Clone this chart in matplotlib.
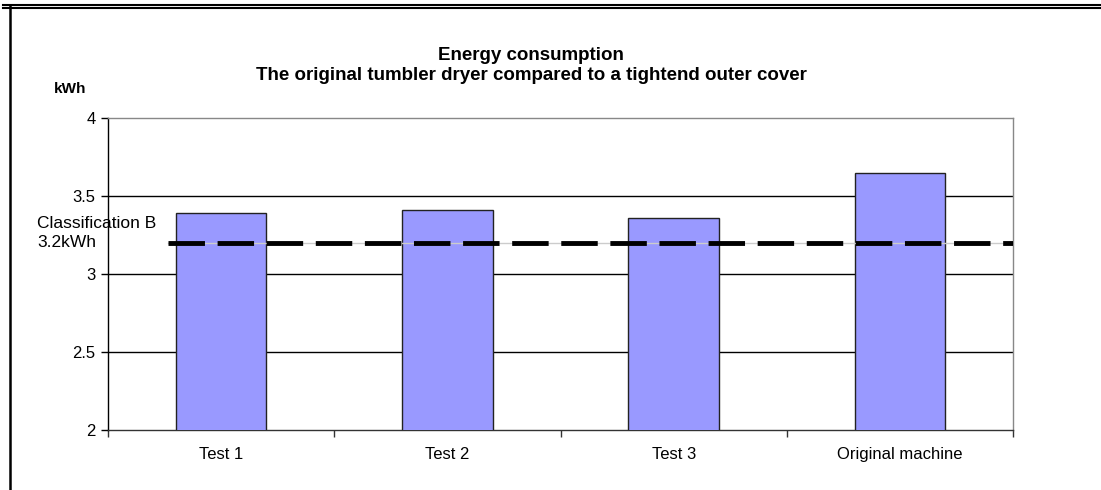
import matplotlib.pyplot as plt
from matplotlib.lines import Line2D

categories = ['Test 1', 'Test 2', 'Test 3', 'Original machine']
energy_kwh = [3.39, 3.41, 3.36, 3.65]
class_b_limit = 3.2
y_ticks = [2, 2.5, 3, 3.5, 4]

plt.rcParams['font.family'] = ['Liberation Sans', 'DejaVu Sans']

W, H = 1101, 490
fig = plt.figure(figsize=(W / 100, H / 100), dpi=100)
ax = fig.add_axes([108 / W, 1 - 430 / H, (1013 - 108) / W, (430 - 118) / H])

x = list(range(len(categories)))
ax.bar(x, energy_kwh, width=0.4, color='#9999ff', edgecolor='#222222',
       linewidth=1.0, zorder=3)

# classification B line
ax.plot([-0.235, 3.5], [class_b_limit] * 2, color='#cccccc', lw=1, zorder=3.5)
ax.plot([-0.235, 3.5], [class_b_limit] * 2, color='black', lw=3.5,
        dashes=(7.5, 2.6), zorder=4)

ax.set_xlim(-0.5, 3.5)
ax.set_ylim(2, 4)
ax.set_yticks(y_ticks)
ax.set_yticklabels([f'{t:g}' for t in y_ticks], fontsize=12)
ax.set_xticks(x)
ax.set_xticklabels(categories, fontsize=12)
ax.tick_params(axis='x', length=0, pad=12)
ax.tick_params(axis='y', length=5, width=1, pad=4)

# tick marks between categories
ax.set_xticks([-0.5, 0.5, 1.5, 2.5, 3.5], minor=True)
ax.tick_params(axis='x', which='minor', length=5, width=1, color='#333333')

for t in [2.5, 3, 3.5]:
    ax.axhline(t, color='black', lw=1, zorder=1)

ax.spines['left'].set_color('black')
ax.spines['bottom'].set_color('#333333')
ax.spines['top'].set_color('#888888')
ax.spines['right'].set_color('#888888')
for s in ax.spines.values():
    s.set_linewidth(1)

fig.text(531 / W, 1 - 55 / H, 'Energy consumption', ha='center', va='center',
         fontsize=13.5, fontweight='bold')
fig.text(531 / W, 1 - 75 / H,
         'The original tumbler dryer compared to a tightend outer cover',
         ha='center', va='center', fontsize=13.5, fontweight='bold')
fig.text(70 / W, 1 - 89 / H, 'kWh', ha='center', va='center', fontsize=11,
         fontweight='bold')
fig.text(37 / W, 1 - 233 / H, 'Classification B\n3.2kWh', ha='left',
         va='center', fontsize=12.5, linespacing=1.3)

# page frame
fig.add_artist(Line2D([3 / W, 1], [1 - 5.5 / H] * 2, color='black', lw=1.5))
fig.add_artist(Line2D([3 / W, 1], [1 - 8.5 / H] * 2, color='black', lw=1.5))
fig.add_artist(Line2D([10 / W] * 2, [0, 1 - 5 / H], color='black', lw=1.8))

fig.savefig('out.png', dpi=100)
